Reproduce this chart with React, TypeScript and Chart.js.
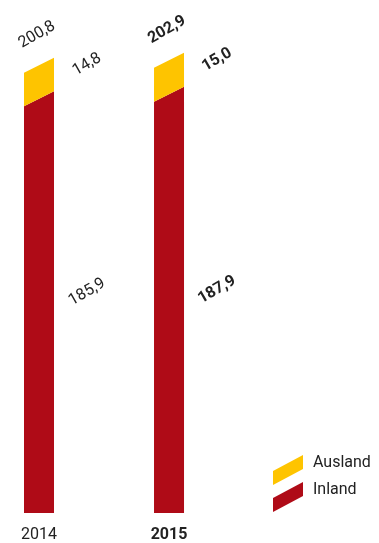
import React, { useEffect, useRef } from 'react';
import { Chart, registerables } from 'chart.js';

Chart.register(...registerables);

// ---- data ----
const years = ['2014', '2015'];
const inland = [185.9, 187.9];
const ausland = [14.8, 15.0];
const totals = [200.8, 202.9];
const boldYear = [false, true];
const seriesNames = ['Inland', 'Ausland'];

// ---- styles ----
const RED = '#AF0B17';
const YELLOW = '#FEC400';
const TEXT = '#222222';
const FONT = 'Roboto, "DejaVu Sans", sans-serif';
const SLANT = 15;
const ANGLE = -Math.PI / 6;

const fmt = (v: number) => v.toFixed(1).replace('.', ',');

function rotText(ctx: CanvasRenderingContext2D, txt: string, x: number, y: number, bold: boolean) {
  ctx.save();
  ctx.translate(x, y);
  ctx.rotate(ANGLE);
  ctx.font = `${bold ? 'bold ' : ''}16px ${FONT}`;
  ctx.fillStyle = TEXT;
  ctx.textAlign = 'center';
  ctx.textBaseline = 'middle';
  ctx.fillText(txt, 0, 0);
  ctx.restore();
}

const slantPlugin = {
  id: 'slantBars',
  beforeDatasetDraw() {
    return false;
  },
  afterDatasetsDraw(chart: any) {
    const ctx: CanvasRenderingContext2D = chart.ctx;
    const tops: number[] = [];
    const centers: number[] = [];
    const labels: Array<[string, number, number, boolean]> = [];
    chart.data.datasets.forEach((ds: any, di: number) => {
      const meta = chart.getDatasetMeta(di);
      meta.data.forEach((el: any, i: number) => {
        const { x, y, base, width } = el.getProps(['x', 'y', 'base', 'width'], true);
        const l = x - width / 2;
        const r = x + width / 2;
        const bottomSlant = di === 0 ? 0 : SLANT;
        ctx.save();
        ctx.fillStyle = ds.backgroundColor;
        ctx.beginPath();
        ctx.moveTo(l, base + bottomSlant);
        ctx.lineTo(l, y + SLANT);
        ctx.lineTo(r, y);
        ctx.lineTo(r, base);
        ctx.closePath();
        ctx.fill();
        ctx.restore();
        const val = ds.data[i].y as number;
        labels.push([fmt(val), r + 33, (y + base) / 2 - 10, boldYear[i]]);
        if (tops[i] === undefined || y < tops[i]) tops[i] = y;
        centers[i] = x;
      });
    });
    labels.forEach(([t, x, y, b]) => rotText(ctx, t, x, y, b));
    totals.forEach((t, i) => {
      rotText(ctx, fmt(t), centers[i] - 2, tops[i] - 23, boldYear[i]);
    });
  },
  afterDraw(chart: any) {
    const ctx: CanvasRenderingContext2D = chart.ctx;
    const items = chart.data.datasets
      .map((ds: any) => ({ label: ds.label, color: ds.backgroundColor }))
      .reverse();
    const left = 273;
    const w = 30;
    const h = 14;
    const slant = 16;
    let top = 455;
    items.forEach((it: any) => {
      ctx.save();
      ctx.fillStyle = it.color;
      ctx.beginPath();
      ctx.moveTo(left, top + slant + h);
      ctx.lineTo(left, top + slant);
      ctx.lineTo(left + w, top);
      ctx.lineTo(left + w, top + h);
      ctx.closePath();
      ctx.fill();
      ctx.font = `16px ${FONT}`;
      ctx.fillStyle = TEXT;
      ctx.textAlign = 'left';
      ctx.textBaseline = 'middle';
      ctx.fillText(it.label, 313, top + 8);
      ctx.restore();
      top += 27;
    });
  },
};

export default function App() {
  const ref = useRef<HTMLCanvasElement>(null);
  useEffect(() => {
    if (!ref.current) return;
    const chart = new Chart(ref.current, {
      type: 'bar',
      data: {
        datasets: [
          {
            label: seriesNames[0],
            data: inland.map((v, i) => ({ x: i, y: v })),
            backgroundColor: RED,
            barThickness: 30,
          },
          {
            label: seriesNames[1],
            data: ausland.map((v, i) => ({ x: i, y: v })),
            backgroundColor: YELLOW,
            barThickness: 30,
          },
        ],
      },
      options: {
        animation: false,
        responsive: false,
        layout: { padding: { top: 14, left: 0, right: 0, bottom: 0 } },
        plugins: { legend: { display: false }, tooltip: { enabled: false } },
        scales: {
          x: {
            type: 'linear',
            stacked: true,
            offset: false,
            bounds: 'data',
            min: -0.3,
            max: 2.615,
            grid: { display: false, drawTicks: false },
            border: { display: false },
            afterBuildTicks: (scale: any) => {
              scale.ticks = years.map((_, i) => ({ value: i }));
            },
            afterFit: (scale: any) => {
              scale.height = 30;
            },
            ticks: {
              padding: 12,
              maxRotation: 0,
              color: TEXT,
              callback: (v: any) => years[v as number] ?? '',
              font: (c: any) => ({ family: FONT, size: 16, weight: boldYear[c.index] ? 'bold' : 'normal' }),
            },
          },
          y: {
            display: false,
            stacked: true,
            min: 0,
            max: 220,
          },
        },
      },
      plugins: [slantPlugin],
    } as any);
    return () => chart.destroy();
  }, []);
  return (
    <div style={{ position: 'absolute', left: 0, top: 0, width: 379, height: 543, background: '#fff' }}>
      <canvas ref={ref} width={379} height={543} />
    </div>
  );
}
